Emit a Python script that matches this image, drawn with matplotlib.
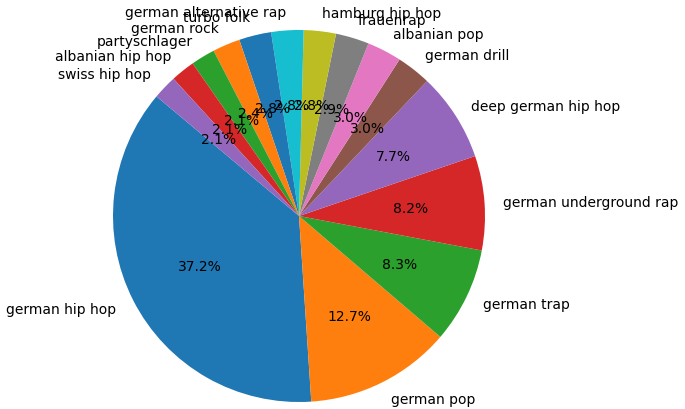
import matplotlib
matplotlib.use("Agg")
import matplotlib.pyplot as plt

genres = [
    "german hip hop", "german pop", "german trap", "german underground rap",
    "deep german hip hop", "german drill", "albanian pop", "frauenrap",
    "hamburg hip hop", "german alternative rap", "turbo folk", "german rock",
    "partyschlager", "albanian hip hop", "swiss hip hop",
]
shares = [37.2, 12.7, 8.3, 8.2, 7.7, 3.0, 3.0, 2.9, 2.8, 2.8, 2.8, 2.4, 2.1, 2.1, 2.1]

fig = plt.figure(figsize=(6.85, 4.1), dpi=100)
# pie centred at (299, 217) px, radius ~186 px
ax = fig.add_axes([(299 - 232.5) / 685, (410 - 217 - 232.5) / 410, 465 / 685, 465 / 410])
ax.pie(shares, labels=genres, autopct="%1.1f%%", startangle=140,
       textprops={"fontsize": 10})
ax.set_aspect("equal")

fig.savefig("out.png", dpi=100)
